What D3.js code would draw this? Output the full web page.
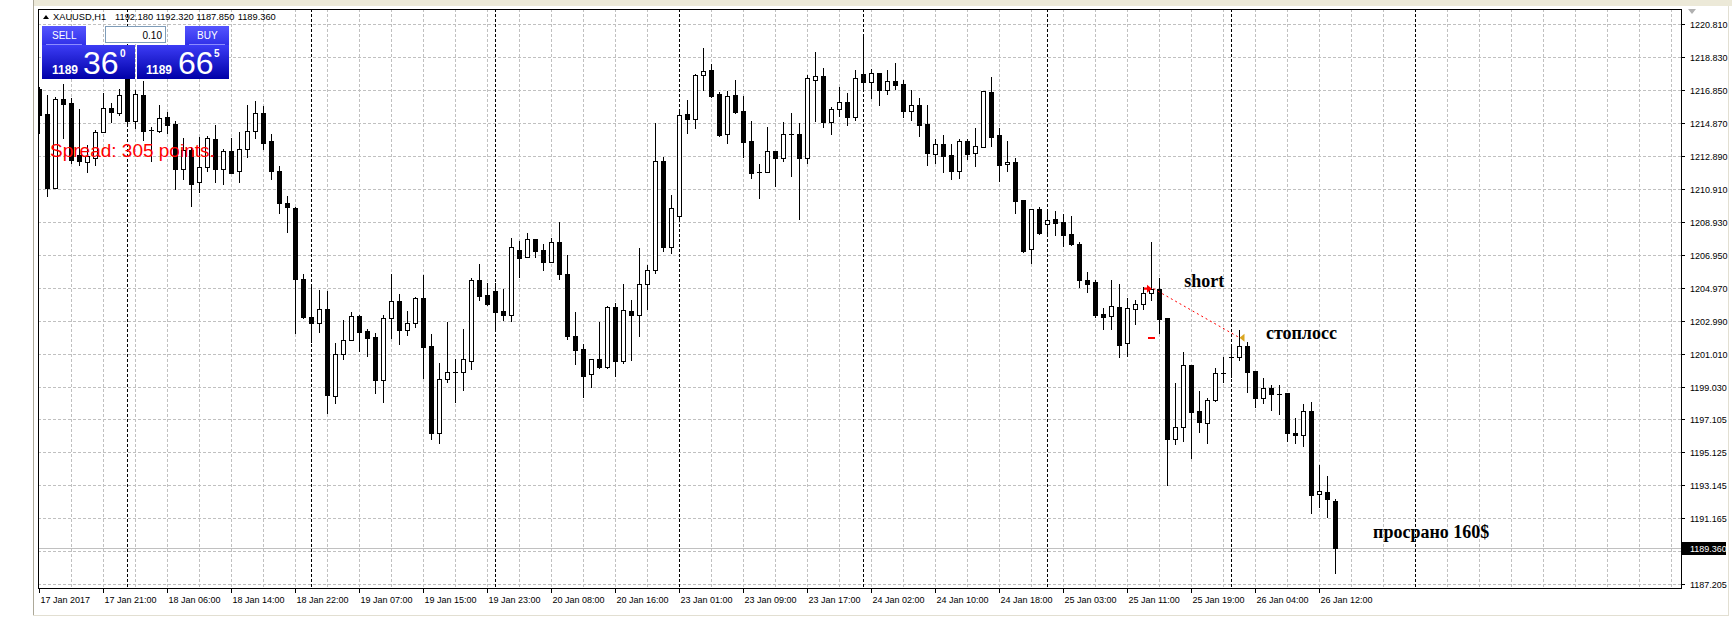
<!DOCTYPE html>
<html><head><meta charset="utf-8">
<script src="https://cdn.jsdelivr.net/npm/d3@7"></script>
<style>html,body{margin:0;padding:0;background:#fff;overflow:hidden}</style>
</head><body>
<svg id="c" width="1732" height="626"></svg>
<script>
// ---------- DATA ----------
const opens = [1216.89,1215.41,1210.99,1216.29,1216.05,1212.95,1212.55,1212.79,1214.31,1215.75,1215.49,1217.69,1215.01,1216.55,1214.43,1214.41,1215.21,1214.81,1212.09,1213.25,1211.31,1212.25,1213.89,1212.13,1213.19,1211.97,1213.29,1214.40,1215.50,1213.80,1212.00,1210.09,1209.77,1205.51,1203.21,1202.89,1203.71,1198.51,1200.99,1201.83,1203.27,1202.39,1202.03,1199.45,1203.15,1204.19,1202.47,1202.85,1204.35,1201.49,1196.29,1199.49,1199.91,1199.91,1200.61,1205.45,1204.53,1204.79,1203.57,1203.37,1207.23,1206.81,1207.89,1207.23,1206.55,1207.73,1205.81,1202.09,1201.31,1199.79,1200.69,1200.25,1203.85,1200.61,1203.57,1203.37,1205.19,1206.03,1212.57,1207.41,1209.27,1215.41,1215.13,1217.73,1218.05,1216.59,1214.19,1216.53,1215.59,1213.79,1211.93,1211.95,1213.17,1212.79,1214.19,1214.19,1212.75,1217.47,1217.67,1214.95,1215.69,1216.13,1215.25,1217.81,1217.31,1217.85,1216.85,1217.39,1217.21,1215.61,1215.93,1214.81,1212.99,1213.59,1212.93,1212.01,1213.79,1213.09,1213.45,1216.73,1214.13,1212.39,1212.51,1210.23,1207.29,1209.69,1208.79,1209.09,1208.91,1208.19,1207.61,1205.43,1205.33,1203.39,1203.27,1203.81,1201.65,1203.69,1203.99,1204.69,1204.89,1203.15,1195.89,1196.65,1200.35,1197.57,1196.89,1198.23,1199.89,1200.85,1200.85,1201.47,1199.99,1198.39,1198.95,1198.63,1198.67,1196.27,1196.13,1197.59,1192.59,1192.73,1192.18];
const highs = [1217.05,1216.55,1216.41,1217.21,1216.35,1215.69,1213.55,1214.45,1216.65,1216.09,1216.91,1218.00,1216.85,1217.41,1214.65,1215.95,1215.55,1214.99,1213.95,1213.41,1214.05,1214.09,1214.73,1213.29,1213.95,1214.33,1215.95,1216.20,1215.90,1214.20,1212.30,1210.50,1209.85,1205.81,1205.15,1204.85,1204.81,1201.65,1203.05,1203.51,1203.35,1202.51,1202.25,1203.35,1205.81,1204.59,1203.59,1204.41,1205.73,1202.19,1200.45,1202.91,1200.71,1202.51,1205.55,1206.41,1205.25,1205.25,1204.89,1207.95,1207.79,1208.29,1207.89,1207.61,1207.97,1208.93,1206.95,1203.53,1201.61,1200.73,1202.95,1203.91,1204.05,1205.21,1204.25,1207.37,1206.33,1214.85,1212.85,1210.55,1215.65,1216.25,1217.81,1219.37,1218.41,1216.71,1216.79,1217.45,1216.49,1215.01,1212.41,1214.65,1213.17,1214.93,1215.47,1214.85,1217.73,1219.13,1218.15,1215.83,1217.01,1216.69,1218.05,1220.05,1218.11,1217.85,1218.05,1218.49,1217.45,1216.85,1216.35,1215.95,1213.89,1214.13,1213.61,1213.91,1213.93,1214.55,1216.77,1217.61,1214.55,1213.79,1212.75,1210.23,1209.73,1209.83,1209.61,1209.61,1209.41,1209.29,1207.75,1205.93,1205.45,1203.75,1205.45,1205.21,1204.35,1204.25,1205.01,1207.71,1205.59,1203.15,1199.25,1201.11,1200.35,1198.79,1198.35,1200.17,1200.85,1201.55,1202.45,1201.75,1199.99,1199.55,1199.15,1199.15,1198.67,1197.15,1198.01,1198.11,1194.33,1193.69,1192.32];
const lows = [1214.25,1210.49,1210.95,1213.99,1212.45,1212.35,1211.95,1212.35,1214.31,1214.93,1215.35,1214.85,1214.55,1213.85,1212.60,1214.35,1214.29,1210.93,1211.49,1209.91,1210.75,1211.99,1211.35,1211.23,1211.85,1211.33,1212.85,1214.00,1213.30,1211.50,1209.45,1208.35,1202.25,1203.15,1201.75,1202.35,1197.49,1198.09,1200.73,1201.83,1201.19,1200.91,1198.69,1198.15,1201.99,1201.61,1202.15,1202.65,1199.59,1195.93,1195.69,1199.35,1198.15,1198.85,1200.11,1204.25,1203.95,1202.45,1203.05,1203.01,1205.65,1206.81,1206.81,1206.05,1206.55,1205.53,1201.91,1200.41,1198.45,1199.05,1200.15,1200.19,1199.71,1200.45,1200.65,1202.11,1203.73,1205.89,1207.17,1207.05,1209.10,1214.29,1214.59,1216.85,1216.45,1214.09,1213.69,1215.49,1212.85,1211.59,1210.39,1211.95,1211.11,1212.59,1211.71,1209.13,1212.49,1215.01,1214.65,1214.23,1215.29,1214.75,1215.05,1216.79,1216.39,1215.95,1216.61,1216.91,1215.21,1215.05,1214.09,1212.35,1212.45,1211.95,1211.53,1211.57,1212.71,1212.29,1213.41,1213.49,1211.41,1211.99,1209.49,1207.13,1206.45,1208.21,1208.23,1208.15,1207.51,1207.55,1205.05,1204.75,1203.25,1202.49,1202.49,1200.85,1200.91,1202.83,1203.69,1204.25,1202.29,1193.15,1195.59,1195.81,1194.79,1196.35,1195.69,1198.21,1199.33,1199.61,1200.65,1198.75,1197.85,1198.05,1197.65,1197.41,1195.79,1195.65,1195.49,1191.49,1191.81,1191.25,1187.85];
const closes = [1215.35,1210.99,1216.29,1216.03,1212.65,1212.59,1212.89,1214.31,1215.75,1215.55,1216.55,1214.99,1216.61,1214.41,1214.43,1215.15,1214.75,1212.13,1213.25,1211.23,1212.25,1213.95,1212.13,1213.21,1211.89,1213.29,1214.39,1215.50,1213.70,1212.00,1210.09,1209.81,1205.49,1203.25,1202.89,1203.71,1198.55,1200.99,1201.83,1203.27,1202.35,1201.99,1199.45,1203.15,1204.19,1202.45,1202.85,1204.35,1201.45,1196.29,1199.49,1199.91,1199.91,1200.69,1205.45,1204.49,1204.01,1203.55,1203.37,1207.41,1206.79,1207.89,1207.21,1206.55,1207.71,1205.81,1202.09,1201.25,1199.71,1200.73,1200.25,1203.85,1200.61,1203.65,1203.37,1205.19,1206.05,1212.57,1207.41,1209.75,1215.33,1215.13,1217.75,1217.97,1216.49,1214.15,1216.47,1215.53,1213.75,1211.89,1211.93,1213.17,1212.79,1214.19,1214.19,1212.79,1217.55,1217.67,1214.95,1215.69,1216.13,1215.25,1217.55,1217.31,1217.85,1216.85,1217.37,1217.15,1215.61,1215.93,1214.77,1213.09,1213.59,1212.91,1212.01,1213.79,1213.03,1213.47,1216.77,1214.05,1212.37,1212.51,1210.21,1207.19,1209.69,1208.29,1209.07,1208.89,1208.17,1207.59,1205.47,1205.23,1203.37,1203.25,1203.87,1201.57,1203.75,1203.99,1204.67,1204.89,1203.13,1195.93,1196.61,1200.33,1197.55,1196.95,1198.23,1199.85,1199.89,1200.85,1201.47,1199.95,1198.39,1198.95,1198.63,1198.63,1196.29,1196.13,1197.59,1192.55,1192.77,1192.29,1189.36];

const xTickBars = [0,8,16,24,32,40,48,56,64,72,80,88,96,104,112,120,128,136,144,152,160];
const xTickLabels = ["17 Jan 2017","17 Jan 21:00","18 Jan 06:00","18 Jan 14:00","18 Jan 22:00","19 Jan 07:00","19 Jan 15:00","19 Jan 23:00","20 Jan 08:00","20 Jan 16:00","23 Jan 01:00","23 Jan 09:00","23 Jan 17:00","24 Jan 02:00","24 Jan 10:00","24 Jan 18:00","25 Jan 03:00","25 Jan 11:00","25 Jan 19:00","26 Jan 04:00","26 Jan 12:00"];
const yTickValues = [1220.810,1218.830,1216.850,1214.870,1212.890,1210.910,1208.930,1206.950,1204.970,1202.990,1201.010,1199.030,1197.105,1195.125,1193.145,1191.165,1189.185,1187.205];
const yTickLabels = ["1220.810","1218.830","1216.850","1214.870","1212.890","1210.910","1208.930","1206.950","1204.970","1202.990","1201.010","1199.030","1197.105","1195.125","1193.145","1191.165","","1187.205"];
const daySeparatorBars = [11,34,57,80,103,126,149,172];
const currentPrice = 1189.36;
const currentPriceLabel = "1189.360";
const headerSymbol = "XAUUSD,H1";
const headerValues = ["1192.180","1192.320","1187.850","1189.360"];
const sellPrice = ["1189","36","0"];
const buyPrice = ["1189","66","5"];
const lotSize = "0.10";
const spreadText = "Spread: 305 points.";
const tradeOpen = {bar:140, price:1204.93};
const tradeClose = {bar:150, price:1201.99};
const stopLevel = {bar:140, price:1201.99};
const annotations = [
  {text:"short", bar:143.1, price:1205.03},
  {text:"стоплосс", bar:153.3, price:1201.91},
  {text:"просрано 160$", bar:166.7, price:1189.97}
];

// ---------- SCALES ----------
const svg = d3.select("#c");
const x = d3.scaleLinear().domain([0, 205]).range([39.5, 39.5 + 8 * 205]);
const y = d3.scaleLinear().domain([1186.97, 1221.65]).range([588, 10]);
const plot = {l: 38, r: 1681, t: 9, b: 588};
const px = v => Math.round(v) + 0.5;

// window chrome
svg.append("rect").attr("x",0).attr("y",0).attr("width",1732).attr("height",626).attr("fill","#fff");
svg.append("rect").attr("x",33).attr("y",0).attr("width",1699).attr("height",6).attr("fill","#ece9d8");
svg.append("line").attr("x1",33.5).attr("x2",33.5).attr("y1",0).attr("y2",615).attr("stroke","#aca899");
svg.append("line").attr("x1",33).attr("x2",1729).attr("y1",615.5).attr("y2",615.5).attr("stroke","#e2dfd2");
svg.append("line").attr("x1",1728.5).attr("x2",1728.5).attr("y1",6).attr("y2",615).attr("stroke","#e2dfd2");

const defs = svg.append("defs");
defs.append("clipPath").attr("id","plotclip").append("rect")
  .attr("x",plot.l+1).attr("y",plot.t+1).attr("width",plot.r-plot.l-1).attr("height",plot.b-plot.t-1);

const g = svg.append("g").attr("clip-path","url(#plotclip)");

// horizontal grid
g.selectAll("line.hg").data(yTickValues).enter().append("line")
  .attr("x1",plot.l).attr("x2",plot.r)
  .attr("y1",d=>px(y(d))).attr("y2",d=>px(y(d)))
  .attr("stroke","#c0c0c0").attr("stroke-dasharray","3,2");
// vertical grid every 4 bars
const vgrid = d3.range(4, 206, 4);
g.selectAll("line.vg").data(vgrid).enter().append("line")
  .attr("x1",d=>x(d)).attr("x2",d=>x(d)).attr("y1",plot.t).attr("y2",plot.b)
  .attr("stroke","#c0c0c0").attr("stroke-dasharray","3,2");
// day separators
g.selectAll("line.ds").data(daySeparatorBars).enter().append("line")
  .attr("x1",d=>x(d)).attr("x2",d=>x(d)).attr("y1",plot.t).attr("y2",plot.b)
  .attr("stroke","#000").attr("stroke-dasharray","3,2");
// current price line
g.append("line").attr("x1",plot.l).attr("x2",plot.r)
  .attr("y1",px(y(currentPrice))).attr("y2",px(y(currentPrice)))
  .attr("stroke","#c0c0c0");

// candles
const idx = d3.range(opens.length);
const cg = g.append("g");
idx.forEach(i => {
  const o = opens[i], c = closes[i], h = highs[i], l = lows[i];
  const xc = x(i);
  cg.append("line").attr("x1",xc).attr("x2",xc)
    .attr("y1",Math.round(y(h))).attr("y2",Math.round(y(l))+1)
    .attr("stroke","#000");
  const top = Math.round(y(Math.max(o,c))), bot = Math.round(y(Math.min(o,c)));
  if (c > o && bot - top >= 1) {
    cg.append("rect").attr("x",xc-2).attr("y",top+0.5).attr("width",4).attr("height",bot-top)
      .attr("fill","#fff").attr("stroke","#000");
  } else if (c < o && bot - top >= 1) {
    cg.append("rect").attr("x",xc-2.5).attr("y",top).attr("width",5).attr("height",bot-top+1)
      .attr("fill","#000");
  } else {
    cg.append("line").attr("x1",xc-2.5).attr("x2",xc+2.5).attr("y1",top+0.5).attr("y2",top+0.5)
      .attr("stroke","#000");
  }
});

// trade markers
g.append("line")
  .attr("x1",x(tradeOpen.bar)-6).attr("y1",y(tradeOpen.price))
  .attr("x2",x(tradeClose.bar)).attr("y2",y(tradeClose.price))
  .attr("stroke","#ff0000").attr("stroke-dasharray","2,3");
{
  const ax = x(tradeOpen.bar)-7.5, ay = y(tradeOpen.price);
  g.append("path").attr("d",`M${ax},${ay} L${ax-5},${ay-4} L${ax-5},${ay-1.2} L${ax-8},${ay-1.2} L${ax-8},${ay+1.2} L${ax-5},${ay+1.2} L${ax-5},${ay+4} Z`)
    .attr("fill","#ff0000");
  const sx = x(stopLevel.bar), sy = Math.round(y(stopLevel.price));
  g.append("rect").attr("x",sx-11.5).attr("y",sy-1).attr("width",7).attr("height",2).attr("fill","#ff0000");
  const bx = x(tradeClose.bar), by = y(tradeClose.price);
  g.append("path").attr("d",`M${bx},${by} L${bx+5},${by-4} L${bx+5},${by+4} Z`).attr("fill","#daa520");
}

// spread text
g.append("text").attr("x",50).attr("y",157).text(spreadText)
  .attr("font-family","Liberation Sans, Arial, sans-serif").attr("font-size",19).attr("fill","#ff0000");

// annotations
g.selectAll("text.ann").data(annotations).enter().append("text")
  .attr("x",d=>x(d.bar)).attr("y",d=>y(d.price)).text(d=>d.text)
  .attr("font-family","Liberation Serif, Times New Roman, serif").attr("font-weight","bold")
  .attr("font-size",18).attr("fill","#000");

// frame
svg.append("rect").attr("x",plot.l+0.5).attr("y",plot.t+0.5).attr("width",plot.r-plot.l).attr("height",plot.b-plot.t)
  .attr("fill","none").attr("stroke","#000");
// chart shift marker
svg.append("path").attr("d","M1688,9 L1696,9 L1692,14 Z").attr("fill","#b0b0b0");

// y axis labels
const font = "Liberation Sans, Arial, sans-serif";
yTickValues.forEach((v,k) => {
  const yy = px(y(v));
  svg.append("line").attr("x1",plot.r).attr("x2",plot.r+4).attr("y1",yy).attr("y2",yy).attr("stroke","#000");
  if (yTickLabels[k]) svg.append("text").attr("x",plot.r+9).attr("y",yy+3.5).text(yTickLabels[k])
    .attr("font-family",font).attr("font-size",9).attr("fill","#000");
});
// current price label
{
  const yy = y(currentPrice);
  svg.append("rect").attr("x",plot.r+1).attr("y",Math.round(yy)-6).attr("width",44).attr("height",13).attr("fill","#000");
  svg.append("text").attr("x",plot.r+9).attr("y",Math.round(yy)+4).text(currentPriceLabel)
    .attr("font-family",font).attr("font-size",9).attr("fill","#fff");
}
// x axis labels
xTickBars.forEach((b,k) => {
  const xx = x(b);
  svg.append("line").attr("x1",xx).attr("x2",xx).attr("y1",plot.b).attr("y2",plot.b+5).attr("stroke","#000");
  svg.append("text").attr("x",xx+1).attr("y",603).text(xTickLabels[k])
    .attr("font-family",font).attr("font-size",9).attr("fill","#000");
});

// header
svg.append("path").attr("d","M43,19 L46,15 L49,19 Z").attr("fill","#000");
svg.append("text").attr("x",53).attr("y",20).text(headerSymbol).attr("font-family",font).attr("font-size",9.3);
[115,155.7,196.3,237.7].forEach((xx,k)=>{
  svg.append("text").attr("x",xx).attr("y",20).text(headerValues[k]).attr("font-family",font).attr("font-size",9.3);
});

// one-click panel
const gr = defs.append("linearGradient").attr("id","blue").attr("x1",0).attr("x2",0).attr("y1",0).attr("y2",1);
gr.append("stop").attr("offset","0%").attr("stop-color","#3c3cf5");
gr.append("stop").attr("offset","100%").attr("stop-color","#0000a8");
const gr2 = defs.append("linearGradient").attr("id","blue2").attr("x1",0).attr("x2",0).attr("y1",0).attr("y2",1);
gr2.append("stop").attr("offset","0%").attr("stop-color","#5555ff");
gr2.append("stop").attr("offset","100%").attr("stop-color","#3030e8");
const panel = svg.append("g");
panel.append("rect").attr("x",42).attr("y",26).attr("width",44).attr("height",19).attr("fill","url(#blue2)");
panel.append("rect").attr("x",42).attr("y",45).attr("width",93).attr("height",34).attr("fill","url(#blue)");
panel.append("rect").attr("x",185).attr("y",26).attr("width",44).attr("height",19).attr("fill","url(#blue2)");
panel.append("rect").attr("x",137).attr("y",45).attr("width",92).attr("height",34).attr("fill","url(#blue)");
panel.append("line").attr("x1",46).attr("x2",82).attr("y1",44.5).attr("y2",44.5).attr("stroke","#8c8cff");
panel.append("line").attr("x1",189).attr("x2",225).attr("y1",44.5).attr("y2",44.5).attr("stroke","#8c8cff");
panel.append("rect").attr("x",105.5).attr("y",26.5).attr("width",60).attr("height",16).attr("fill","#fff").attr("stroke","#7f9db9");
panel.append("text").attr("x",162).attr("y",38.5).attr("text-anchor","end").text(lotSize).attr("font-family",font).attr("font-size",10);
panel.append("text").attr("x",52).attr("y",39).text("SELL").attr("font-family",font).attr("font-size",10).attr("fill","#fff");
panel.append("text").attr("x",197).attr("y",39).text("BUY").attr("font-family",font).attr("font-size",10).attr("fill","#fff");
[[52,83,120,sellPrice],[146,178,214,buyPrice]].forEach(([a,b,c,p])=>{
  panel.append("text").attr("x",a).attr("y",74).text(p[0]).attr("font-family",font).attr("font-weight","bold").attr("font-size",12).attr("fill","#fff");
  panel.append("text").attr("x",b).attr("y",74).text(p[1]).attr("font-family",font).attr("font-size",32).attr("fill","#fff");
  panel.append("text").attr("x",c).attr("y",57).text(p[2]).attr("font-family",font).attr("font-weight","bold").attr("font-size",10).attr("fill","#fff");
});
</script>
</body></html>
